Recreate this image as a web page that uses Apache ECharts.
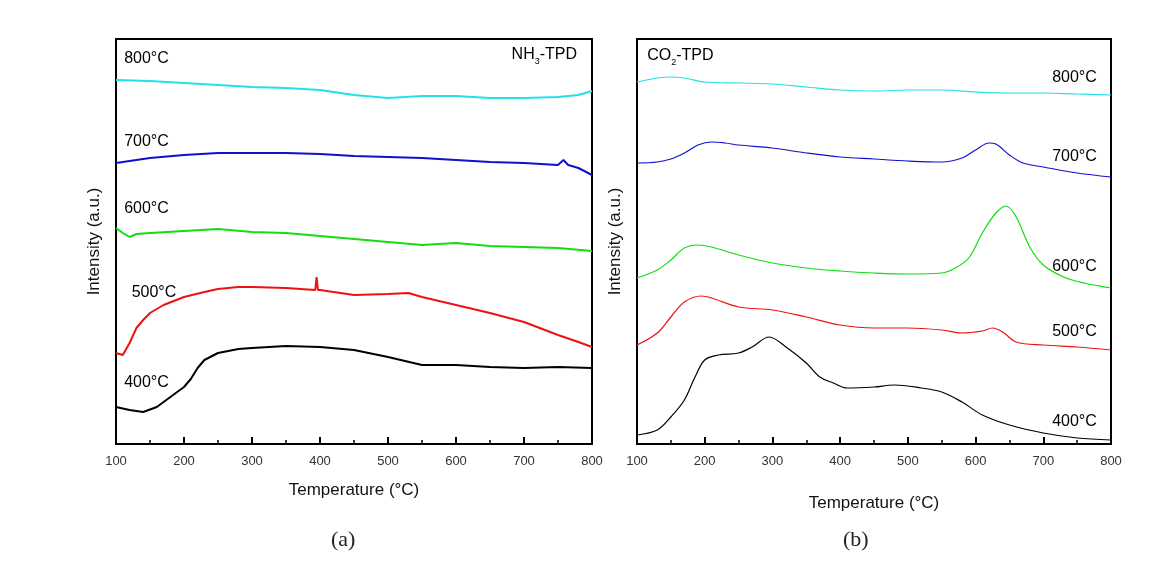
<!DOCTYPE html>
<html><head><meta charset="utf-8">
<script src="https://cdn.jsdelivr.net/npm/echarts@6/dist/echarts.min.js"></script>
<style>html,body{margin:0;padding:0;background:#fff}#c{width:1158px;height:566px}</style>
</head><body><div id="c"></div>
<script>
// Series names (calcination temperatures)
const sampleNames = ['400°C','500°C','600°C','700°C','800°C'];
const xTicks = [100,200,300,400,500,600,700,800];

// (a) NH3-TPD : [temperature, intensity (a.u.)]
const nh400 = [[100,37],[120,34],[140,32],[160,37],[180,47],[200,57],[210,65],[220,76],[230,84],[250,91],[280,95],[300,96],[350,98],[400,97],[450,94],[500,87],[550,79],[600,79],[650,77],[700,76],[750,77],[800,76]];
const nh500 = [[100,91],[110,89],[120,101],[130,116],[140,124],[150,131],[170,139],[200,147],[230,152],[250,155],[280,157],[300,157],[350,156],[393,154],[395,167],[397,154],[400,154],[450,149],[500,150],[530,151],[550,147],[600,139],[650,131],[700,122],[750,109],[780,102],[800,97]];
const nh600 = [[100,216],[110,211],[120,207],[130,210],[150,211],[200,213],[250,215],[300,212],[350,211],[400,208],[450,205],[500,202],[550,199],[600,201],[650,198],[700,197],[750,196],[800,193]];
const nh700 = [[100,281],[150,286],[200,289],[250,291],[300,291],[350,291],[400,290],[450,288],[500,287],[550,286],[600,284],[650,282],[700,281],[750,279],[758,284],[765,279],[780,276],[800,269]];
const nh800 = [[100,364],[150,363],[200,361],[250,359],[300,357],[350,356],[400,354],[450,349],[500,346],[550,348],[600,348],[650,346],[700,346],[750,347],[780,349],[800,353]];

// (b) CO2-TPD : [temperature, intensity (a.u.)]
const co400 = [[100,9],[130,14],[150,27],[170,44],[185,66],[200,84],[220,89],[250,91],[270,97],[295,107],[320,97],[350,81],[370,67],[390,61],[410,56],[450,57],[480,59],[520,56],[550,52],[580,42],[610,29],[650,19],[700,11],[750,6],[800,4]];
const co500 = [[100,99],[130,111],[150,127],[170,142],[195,148],[210,146],[250,137],[300,134],[350,127],[400,119],[450,116],[500,116],[550,114],[580,111],[610,113],[625,116],[640,112],[660,102],[700,99],[750,97],[800,94]];
const co600 = [[100,166],[130,174],[150,184],[170,196],[190,199],[210,197],[250,189],[300,181],[350,176],[400,173],[450,171],[500,170],[550,171],[570,176],[590,186],[610,211],[630,231],[645,238],[660,227],[680,197],[700,179],[730,167],[760,161],[800,156]];
const co700 = [[100,281],[130,282],[150,285],[170,291],[190,299],[210,302],[230,301],[250,299],[300,296],[350,291],[400,287],[450,285],[500,283],[550,282],[580,286],[600,294],[620,301],[630,300],[650,289],[670,281],[700,277],[750,271],[800,267]];
const co800 = [[100,362],[130,366],[150,367],[170,366],[200,362],[250,361],[300,360],[350,357],[400,354],[450,353],[500,354],[550,354],[600,352],[650,351],[700,351],[750,350],[800,349]];

const colors = ['#000000','#ee1111','#11dd11','#1111cc','#22e0e8'];
const FONT = '"Liberation Sans", Arial, sans-serif';

function xAxisCfg(gi, nameGap) {
  return {
    type:'value', gridIndex:gi, min:100, max:800, interval:100,
    name:'Temperature (°C)', nameLocation:'middle', nameGap:nameGap,
    nameTextStyle:{fontFamily:FONT, fontSize:17, color:'#111'},
    axisLine:{show:true, lineStyle:{color:'#000', width:2}},
    axisTick:{show:true, inside:true, length:7, lineStyle:{color:'#000', width:2}},
    minorTick:{show:true, splitNumber:2, length:4, lineStyle:{color:'#000', width:1.5}},
    axisLabel:{fontFamily:FONT, fontSize:13, color:'#333', margin:11,
      formatter:v => xTicks.includes(v) ? String(v) : ''},
    splitLine:{show:false}
  };
}
function yAxisCfg(gi) {
  return {
    type:'value', gridIndex:gi, min:0, max:405,
    name:'Intensity (a.u.)', nameLocation:'middle', nameGap:13,
    nameTextStyle:{fontFamily:FONT, fontSize:17, color:'#111'},
    axisLine:{show:true, lineStyle:{color:'#000', width:2}},
    axisTick:{show:false}, axisLabel:{show:false}, splitLine:{show:false}
  };
}
function lineSeries(data, i, gi, width, smooth) {
  return {type:'line', name:sampleNames[i], xAxisIndex:gi, yAxisIndex:gi, data:data,
    showSymbol:false, symbol:'none', smooth:smooth, animation:false,
    lineStyle:{color:colors[i], width:width}};
}
function textMark(gi, coord, text, pos) {
  return {type:'scatter', xAxisIndex:gi, yAxisIndex:gi, silent:true, animation:false,
    symbolSize:0, data:[coord], itemStyle:{opacity:1},
    label:{show:true, position:pos, distance:0, formatter:text, opacity:1,
      fontFamily:FONT, fontSize:16, color:'#000',
      rich:{sub:{fontFamily:FONT, fontSize:9, color:'#000', padding:[14,0,0,0]}}}};
}

const series = [];
[nh400, nh500, nh600, nh700, nh800].forEach((d,i)=>series.push(lineSeries(d,i,0,2,false)));
[co400, co500, co600, co700, co800].forEach((d,i)=>series.push(lineSeries(d,i,1,1.2,0.35)));
// panel (a) labels
series.push(textMark(0,[112,61],sampleNames[0],'right'));
series.push(textMark(0,[123,151],sampleNames[1],'right'));
series.push(textMark(0,[112,235],sampleNames[2],'right'));
series.push(textMark(0,[112,302],sampleNames[3],'right'));
series.push(textMark(0,[112,385],sampleNames[4],'right'));
series.push(textMark(0,[778,389],'NH{sub|3}-TPD','left'));
// panel (b) labels
series.push(textMark(1,[779,22],sampleNames[0],'left'));
series.push(textMark(1,[779,112],sampleNames[1],'left'));
series.push(textMark(1,[779,177],sampleNames[2],'left'));
series.push(textMark(1,[779,287],sampleNames[3],'left'));
series.push(textMark(1,[779,366],sampleNames[4],'left'));
series.push(textMark(1,[115,388],'CO{sub|2}-TPD','right'));

const chart = echarts.init(document.getElementById('c'), null, {renderer:'canvas'});
chart.setOption({
  backgroundColor:'#fff',
  animation:false,
  grid:[
    {left:116, right:566, top:39, bottom:122, show:true, borderColor:'#000', borderWidth:2, backgroundColor:'transparent'},
    {left:637, right:47, top:39, bottom:122, show:true, borderColor:'#000', borderWidth:2, backgroundColor:'transparent'}
  ],
  xAxis:[xAxisCfg(0,38), xAxisCfg(1,51)],
  yAxis:[yAxisCfg(0), yAxisCfg(1)],
  graphic:[
    {type:'text', left:331, top:529, style:{text:'(a)', fontFamily:'"Liberation Serif", "Times New Roman", serif', fontSize:22, fill:'#222'}},
    {type:'text', left:843, top:529, style:{text:'(b)', fontFamily:'"Liberation Serif", "Times New Roman", serif', fontSize:22, fill:'#222'}}
  ],
  series:series
});
</script></body></html>
